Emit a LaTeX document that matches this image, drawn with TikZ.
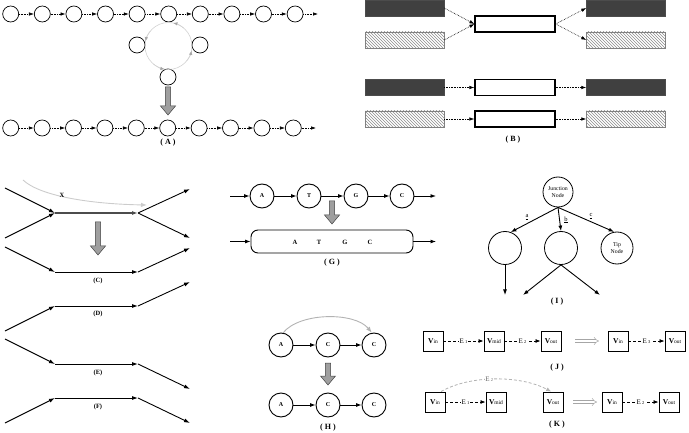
\documentclass[tikz,border=0pt]{standalone}
\usepackage{fontspec}
\setmainfont{Liberation Serif}
\usetikzlibrary{arrows.meta,patterns,calc}
\newcommand{\gdarrow}[3]{% x, y0, y1
  \filldraw[fill=gray!75,draw=gray!50!black,line width=0.5pt]
    (#1-2.6,#2) -- (#1+2.6,#2) -- (#1+2.6,#3-9) -- (#1+7.5,#3-9) -- (#1,#3)
    -- (#1-7.5,#3-9) -- (#1-2.6,#3-9) -- cycle;}
\newcommand{\Vt}[1]{\textbf{V}{\fontsize{5.5}{6}\selectfont #1}}
\newcommand{\Et}[1]{E\,{\fontsize{4.5}{5}\selectfont #1}}
\begin{document}
\begin{tikzpicture}[x=1pt,y=-1pt,
  cir/.style={circle,draw,line width=0.7pt,minimum size=16pt,inner sep=0pt},
  dotarr/.style={densely dotted,line width=0.6pt,-{Latex[length=5pt,width=3.5pt]}},
  loopst/.style={gray!35,line width=0.6pt},
  looptip/.style={gray!35,line width=0.6pt,-{Latex[length=4pt,width=3.5pt,color=gray!70]}},
  lab/.style={font=\fontsize{8}{9}\selectfont\bfseries,inner sep=1pt},
  slab/.style={font=\fontsize{6.5}{7}\selectfont\bfseries,inner sep=1pt},
  darkbox/.style={rectangle,draw=black!70,fill=black!75,minimum width=79pt,minimum height=16pt,inner sep=0pt},
  hatchbox/.style={rectangle,draw=gray,pattern=north west lines,pattern color=gray!90,minimum width=79pt,minimum height=16pt,inner sep=0pt},
  midbox/.style={rectangle,draw,line width=1.2pt,fill=white,minimum width=80pt,minimum height=16pt,inner sep=0pt},
  seg/.style={line width=0.9pt,-{Latex[length=6pt,width=4pt]}},
  graycurve/.style={gray!60,line width=0.9pt,-{Latex[length=6pt,width=4.5pt]}},
  gcir/.style={circle,draw,line width=0.9pt,minimum size=24pt,inner sep=0pt,font=\fontsize{6}{6}\selectfont\bfseries},
  arr/.style={line width=0.9pt,-{Latex[length=5.5pt,width=4pt]}},
  glet/.style={font=\fontsize{6.5}{7}\selectfont\bfseries,inner sep=0.5pt},
  icir/.style={circle,draw,line width=0.8pt,inner sep=0pt,align=center,font=\fontsize{5.8}{6.8}\selectfont},
  ilab/.style={font=\fontsize{6.5}{6.5}\selectfont,inner sep=0.5pt},
  vbox/.style={rectangle,draw,line width=0.9pt,minimum size=20pt,inner sep=0pt,font=\fontsize{7.5}{8}\selectfont},
  dasharr/.style={densely dashed,line width=0.8pt,-{Latex[length=5pt,width=4pt]}},
  graydash/.style={densely dashed,gray!60,line width=0.8pt,-{Latex[length=5pt,width=4pt]}},
  elab/.style={fill=white,inner sep=0.6pt,font=\fontsize{7}{7}\selectfont},
  dblarr/.style={gray!70,double=white,double distance=2.2pt,line width=0.5pt,-{Implies}}
]
\useasboundingbox (0,0) rectangle (689,433);

% ================= Panel A =================
\foreach \i in {0,...,9} \node[cir] (t\i) at ({10.7+31.6*\i},14) {};
\foreach \i [count=\j] in {0,...,8} \draw[dotarr] (t\i) -- (t\j);
\coordinate (tend) at (318,14);
\draw[dotarr] (t9) -- (tend);

\node[cir] (la) at (137,45) {};
\node[cir] (lb) at (200,45) {};
\node[cir] (lc) at (168,77) {};
\coordinate (lo) at (168.5,46);
\draw[loopst] (lo) circle[radius=23.5];
\draw[looptip] ($(lo)+(-50:23.5)$) arc[start angle=-50,end angle=-78,radius=23.5];
\draw[looptip] ($(lo)+(220:23.5)$) arc[start angle=220,end angle=192,radius=23.5];
\draw[looptip] ($(lo)+(130:23.5)$) arc[start angle=130,end angle=100,radius=23.5];
\draw[looptip] ($(lo)+(40:23.5)$) arc[start angle=40,end angle=12,radius=23.5];

\gdarrow{168}{87}{115}

\foreach \i in {0,...,9} \node[cir] (b\i) at ({10.7+31.4*\i},128) {};
\foreach \i [count=\j] in {0,...,8} \draw[dotarr] (b\i) -- (b\j);
\coordinate (bend) at (316,128);
\draw[dotarr] (b9) -- (bend);
\node[lab] (labA) at (168,143) {( A )};

% ================= Panel B =================
\node[darkbox] (bl1) at (404.5,8) {};
\node[hatchbox] (bl2) at (404.5,40) {};
\node[midbox] (bm1) at (515,24) {};
\node[darkbox] (br1) at (626,8) {};
\node[hatchbox] (br2) at (626,40) {};
\draw[dotarr] (bl1.east) -- (bm1.west);
\draw[dotarr] (bl2.east) -- (bm1.west);
\draw[dotarr] (bm1.east) -- (br1.west);
\draw[dotarr] (bm1.east) -- (br2.west);

\node[darkbox] (bl3) at (404.5,87.5) {};
\node[midbox] (bm3) at (515,87.5) {};
\node[darkbox] (br3) at (626,87.5) {};
\node[hatchbox] (bl4) at (404.5,119) {};
\node[midbox] (bm4) at (515,119) {};
\node[hatchbox] (br4) at (626,119) {};
\draw[dotarr] (bl3) -- (bm3);
\draw[dotarr] (bm3) -- (br3);
\draw[dotarr] (bl4) -- (bm4);
\draw[dotarr] (bm4) -- (br4);
\node[lab] (labB) at (513,140) {( B )};

% ================= Panel C =================
\coordinate (c1) at (5,188);
\coordinate (c2) at (5,238);
\coordinate (c3) at (55,213);
\coordinate (c4) at (138,213);
\coordinate (c5) at (190,189);
\coordinate (c6) at (190,238);
\draw[seg] (c1) -- (c3);
\draw[seg] (c2) -- (c3);
\draw[seg,black!70,line width=1.3pt] (c3) -- (c4);
\draw[seg] (c4) -- (c5);
\draw[seg] (c4) -- (c6);
\coordinate (cx1) at (23,180);
\coordinate (cx2) at (147,205);
\draw[graycurve,gray!40] (cx1) .. controls (40,196) and (90,204) .. (cx2);
\node[slab] (xl) at (62,195) {X};
\gdarrow{98}{222}{255}

\coordinate (d1) at (5,247);
\coordinate (d2) at (55,272);
\coordinate (d3) at (138,272);
\coordinate (d4) at (190,248);
\draw[seg] (d1) -- (d2);
\draw[seg] (d2) -- (d3);
\draw[seg] (d3) -- (d4);
\node[slab] (labC) at (98,281) {(C)};

% ================= Panel D =================
\coordinate (e1) at (5,331);
\coordinate (e2) at (55,306);
\coordinate (e3) at (138,306);
\coordinate (e4) at (190,282);
\draw[seg] (e1) -- (e2);
\draw[seg] (e2) -- (e3);
\draw[seg] (e3) -- (e4);
\node[slab] (labD) at (98,314) {(D)};

% ================= Panel E =================
\coordinate (f1) at (5,339);
\coordinate (f2) at (55,364);
\coordinate (f3) at (138,364);
\coordinate (f4) at (190,389);
\draw[seg] (f1) -- (f2);
\draw[seg] (f2) -- (f3);
\draw[seg] (f3) -- (f4);
\node[slab] (labE) at (98,373) {(E)};

% ================= Panel F =================
\coordinate (g1) at (5,423);
\coordinate (g2) at (55,398);
\coordinate (g3) at (138,398);
\coordinate (g4) at (190,423);
\draw[seg] (g1) -- (g2);
\draw[seg] (g2) -- (g3);
\draw[seg] (g3) -- (g4);
\node[slab] (labF) at (98,407) {(F)};

% ================= Panel G =================
\node[gcir] (gA) at (262,196) {A};
\node[gcir] (gT) at (309,196) {T};
\node[gcir] (gG) at (356,196) {G};
\node[gcir] (gC) at (402,196) {C};
\coordinate (gin) at (230,196);
\coordinate (gout) at (436,196);
\draw[arr] (gin) -- (gA);
\draw[arr] (gA) -- (gT);
\draw[arr] (gT) -- (gG);
\draw[arr] (gG) -- (gC);
\draw[arr] (gC) -- (gout);
\gdarrow{332}{201}{224}
\node[draw,line width=0.9pt,rounded corners=7pt,minimum width=162pt,minimum height=23pt,inner sep=0pt] (grect) at (332,241.5) {};
\node[glet] (gl1) at (295,242) {A};
\node[glet] (gl2) at (319,242) {T};
\node[glet] (gl3) at (345,242) {G};
\node[glet] (gl4) at (370,242) {C};
\coordinate (gin2) at (230,241.5);
\coordinate (gout2) at (436,241.5);
\draw[arr] (gin2) -- (grect);
\draw[arr] (grect) -- (gout2);
\node[lab] (labG) at (332,263) {( G )};

% ================= Panel H =================
\node[gcir] (hA) at (281,345) {A};
\node[gcir] (hC1) at (328,345) {C};
\node[gcir] (hC2) at (374,345) {C};
\draw[arr] (hA) -- (hC1);
\draw[arr] (hC1) -- (hC2);
\draw[graycurve] (hA.80) .. controls (300,312) and (355,312) .. (hC2.100);
\gdarrow{328}{363}{385}
\node[gcir] (hA2) at (281,405) {A};
\node[gcir] (hC3) at (328,405) {C};
\node[gcir] (hC4) at (374,405) {C};
\draw[arr] (hA2) -- (hC3);
\draw[arr] (hC3) -- (hC4);
\node[lab] (labH) at (328,428) {( H )};

% ================= Panel I =================
\node[icir,minimum size=30pt] (iJ) at (558,192) {Junction\\Node};
\node[icir,minimum size=33pt] (iL) at (505,248) {};
\node[icir,minimum size=33pt] (iM) at (561,248) {};
\node[icir,minimum size=32pt] (iT) at (617,248) {Tip\\Node};
\draw[arr] (iJ.south) -- (iL.70);
\draw[arr] (iJ.south) -- (iM.north);
\draw[arr] (iJ.south) -- (iT.100);
\node[ilab] (ia) at (527,217) {\underline{a}};
\node[ilab] (ib) at (566,220) {\underline{b}};
\node[ilab] (ic) at (591,216) {\underline{c}};
\coordinate (ie1) at (505,295);
\coordinate (ie2) at (523,295);
\coordinate (ie3) at (600,295);
\draw[arr] (iL.south) -- (ie1);
\draw[arr] (iM.south) -- (ie2);
\draw[arr] (iM.south) -- (ie3);
\node[lab] (labI) at (557,302) {( I )};

% ================= Panel J =================
\node[vbox] (jA) at (433,341) {\Vt{in}};
\node[vbox] (jB) at (494,341) {\Vt{mid}};
\node[vbox] (jC) at (551,341) {\Vt{out}};
\draw[dasharr] (jA) -- node[elab] (je1) {\Et{1}} (jB);
\draw[dasharr] (jB) -- node[elab] (je2) {\Et{2}} (jC);
\coordinate (jd1) at (575,341);
\coordinate (jd2) at (599,341);
\draw[dblarr] (jd1) -- (jd2);
\node[vbox] (jD) at (618,341) {\Vt{in}};
\node[vbox] (jE) at (675,341) {\Vt{out}};
\draw[dasharr] (jD) -- node[elab] (je3) {\Et{3}} (jE);
\node[lab] (labJ) at (557,368) {( J )};

% ================= Panel K =================
\node[vbox] (kA) at (435,402) {\Vt{in}};
\node[vbox] (kB) at (496,402) {\Vt{mid}};
\node[vbox] (kC) at (553,402) {\Vt{out}};
\draw[dasharr] (kA) -- node[elab] (ke1) {\Et{1}} (kB);
\draw[graydash] (kA.60) .. controls (470,375) and (520,375) .. node[elab,pos=0.45,text=gray!80!black] (ke2) {\Et{2}} (kC.100);
\coordinate (kd1) at (573,402);
\coordinate (kd2) at (597,402);
\draw[dblarr] (kd1) -- (kd2);
\node[vbox] (kD) at (612,402) {\Vt{in}};
\node[vbox] (kE) at (669,402) {\Vt{out}};
\draw[dasharr] (kD) -- node[elab] (ke3) {\Et{2}} (kE);
\node[lab] (labK) at (557,425) {( K )};
\end{tikzpicture}
\end{document}
